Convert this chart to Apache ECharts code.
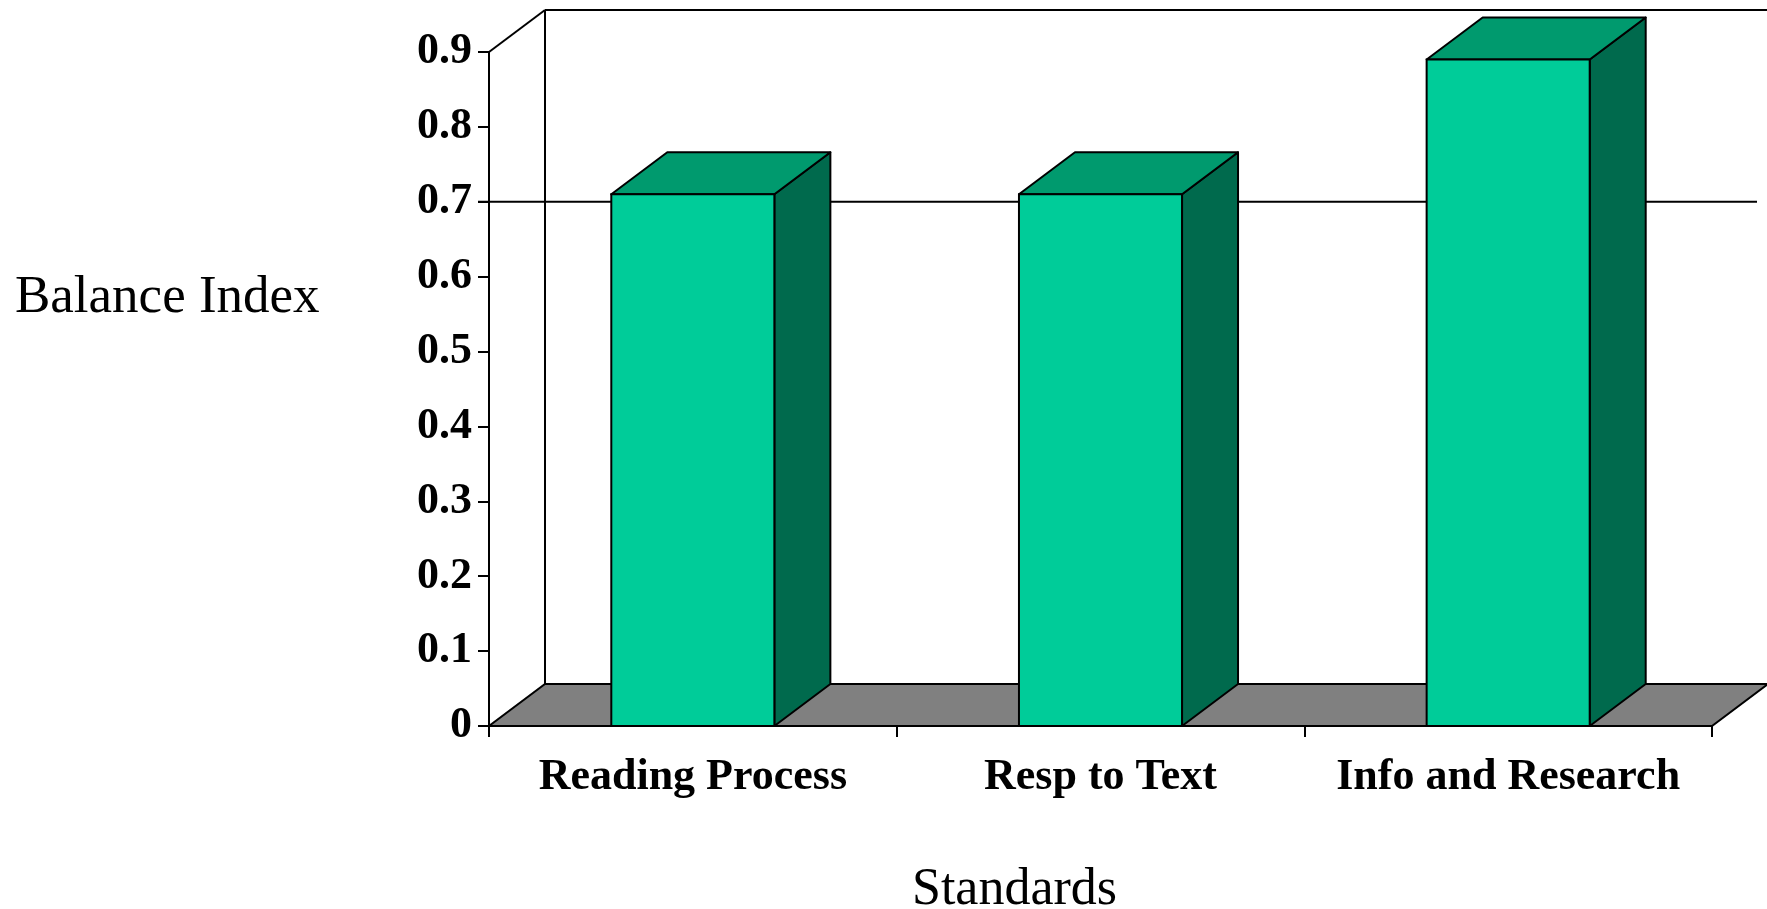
<!DOCTYPE html>
<html>
<head>
<meta charset="utf-8">
<script src="https://cdn.jsdelivr.net/npm/echarts@6/dist/echarts.min.js"></script>
<style>
html,body{margin:0;padding:0;background:#fff;}
#chart{width:1767px;height:909px;}
</style>
</head>
<body>
<div id="chart"></div>
<script>
// ---- data ----
var categories = ['Reading Process', 'Resp to Text', 'Info and Research'];
var values = [0.71, 0.71, 0.89];
var refLines = [0.7];
var yTicks = { min: 0, max: 0.9, interval: 0.1 };
var yTitle = 'Balance Index';
var xTitle = 'Standards';

// ---- style ----
var FONT = '"Liberation Serif", "Times New Roman", serif';
var DX = 56, DY = -42;          // 3D depth offset in px
var BAR_FRAC = 0.4;
var C_FRONT = '#00CC99', C_TOP = '#009A6E', C_SIDE = '#006A4D', C_FLOOR = '#808080';

var chart = echarts.init(document.getElementById('chart'), null, { renderer: 'canvas' });

var option = {
  animation: false,
  backgroundColor: '#ffffff',
  grid: { left: 489, right: 55, top: 52, bottom: 183, containLabel: false },
  xAxis: {
    type: 'category',
    data: categories,
    axisLine: { show: true, lineStyle: { color: '#000', width: 2 } },
    axisTick: { show: true, length: 11, interval: 0, lineStyle: { color: '#000', width: 2 } },
    axisLabel: { interval: 0, margin: 30, color: '#000', fontFamily: FONT, fontWeight: 'bold', fontSize: 44 },
    splitLine: { show: false }
  },
  yAxis: {
    type: 'value',
    min: yTicks.min, max: yTicks.max, interval: yTicks.interval,
    axisLine: { show: true, lineStyle: { color: '#000', width: 2 } },
    axisTick: { show: true, length: 11, lineStyle: { color: '#000', width: 2 } },
    axisLabel: { margin: 17, color: '#000', fontFamily: FONT, fontWeight: 'bold', fontSize: 44 },
    splitLine: { show: false }
  },
  graphic: [
    { type: 'text', left: 15, top: 272, style: { text: yTitle, fill: '#000', font: 'normal 53px ' + FONT } },
    { type: 'text', left: 912, top: 864, style: { text: xTitle, fill: '#000', font: 'normal 52px ' + FONT } }
  ],
  series: [
    {
      type: 'custom',
      name: 'scene',
      z: 1,
      silent: true,
      data: [[0]],
      renderItem: function (params, api) {
        var cs = params.coordSys;
        var x0 = cs.x, x1 = cs.x + cs.width;
        var yTop = cs.y, yBase = cs.y + cs.height;
        var children = [];
        children.push({
          type: 'polygon',
          shape: { points: [[x0, yBase], [x1, yBase], [x1 + DX, yBase + DY], [x0 + DX, yBase + DY]] },
          style: { fill: C_FLOOR, stroke: '#000', lineWidth: 2 }
        });
        children.push({ type: 'line', shape: { x1: x0 + DX, y1: yBase + DY, x2: x0 + DX, y2: yTop + DY }, style: { stroke: '#000', lineWidth: 2 } });
        children.push({ type: 'line', shape: { x1: x0 + DX, y1: yTop + DY, x2: x1 + DX + 20, y2: yTop + DY }, style: { stroke: '#000', lineWidth: 2 } });
        children.push({ type: 'line', shape: { x1: x0, y1: yTop, x2: x0 + DX, y2: yTop + DY }, style: { stroke: '#000', lineWidth: 2 } });
        refLines.forEach(function (v) {
          var y = api.coord([0, v])[1];
          children.push({ type: 'line', shape: { x1: x0 - 11, y1: y, x2: x1 + DX - 11, y2: y }, style: { stroke: '#000', lineWidth: 2 } });
        });
        return { type: 'group', children: children };
      }
    },
    {
      type: 'custom',
      name: 'Balance Index',
      z: 3,
      data: categories.map(function (c, i) { return [i, values[i]]; }),
      encode: { x: 0, y: 1 },
      renderItem: function (params, api) {
        var i = api.value(0), v = api.value(1);
        var top = api.coord([i, v]);
        var base = api.coord([i, 0]);
        var bw = api.size([1, 0])[0] * BAR_FRAC;
        var xl = top[0] - bw / 2, xr = top[0] + bw / 2;
        var yt = top[1], yb = base[1];
        return {
          type: 'group',
          children: [
            { type: 'polygon', shape: { points: [[xr, yt], [xr, yb], [xr + DX, yb + DY], [xr + DX, yt + DY]] },
              style: { fill: C_SIDE, stroke: '#000', lineWidth: 2, lineJoin: 'round' } },
            { type: 'polygon', shape: { points: [[xl, yt], [xr, yt], [xr + DX, yt + DY], [xl + DX, yt + DY]] },
              style: { fill: C_TOP, stroke: '#000', lineWidth: 2, lineJoin: 'round' } },
            { type: 'rect', shape: { x: xl, y: yt, width: bw, height: yb - yt },
              style: { fill: C_FRONT, stroke: '#000', lineWidth: 2 } }
          ]
        };
      }
    }
  ]
};
chart.setOption(option);
</script>
</body>
</html>
